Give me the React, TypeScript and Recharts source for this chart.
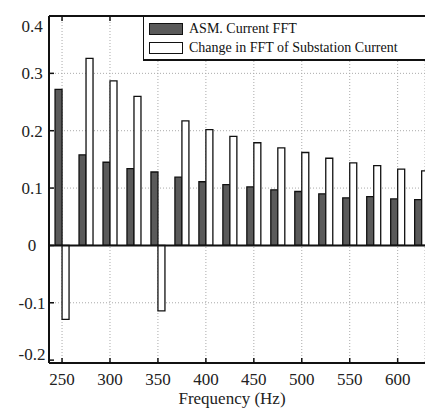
import { BarChart, Bar, XAxis, YAxis, CartesianGrid, ReferenceLine } from "recharts";

const SERIF = "Liberation Serif";

// harmonic frequencies (Hz)
const FREQS = [250, 275, 300, 325, 350, 375, 400, 425, 450, 475, 500, 525, 550, 575, 600, 625];
// ASM current FFT magnitude
const ASM_FFT = [0.272, 0.158, 0.145, 0.134, 0.128, 0.119, 0.111, 0.106, 0.102, 0.097, 0.094, 0.09, 0.083, 0.085, 0.081, 0.08];
// change in FFT of substation current
const SUB_DELTA = [-0.129, 0.326, 0.287, 0.26, -0.114, 0.217, 0.202, 0.19, 0.179, 0.17, 0.162, 0.152, 0.144, 0.139, 0.133, 0.13];

const X_TICKS = [250, 300, 350, 400, 450, 500, 550, 600];
const Y_TICKS = [-0.2, -0.1, 0, 0.1, 0.2, 0.3, 0.4];
const Y_GRID = [-0.1, 0.1, 0.2, 0.3];

const SERIES = [
  { key: "asm", name: "ASM. Current FFT", fill: "#5a5a5a" },
  { key: "sub", name: "Change in FFT of Substation Current", fill: "#ffffff" },
];

const rows = FREQS.map((f, i) => ({ freq: f, asm: ASM_FFT[i], sub: SUB_DELTA[i] }));

const TOP = 16;
const INK = "#111";

function FreqTick({ x, y, payload }: any) {
  return (
    <g>
      <line x1={x} x2={x} y1={y} y2={y - 5} stroke={INK} strokeWidth={1.5} />
      <line x1={x} x2={x} y1={TOP} y2={TOP + 5} stroke={INK} strokeWidth={1.5} />
      <text x={x} y={385} textAnchor="middle" fontSize={17} fontFamily={SERIF} fill="#222">
        {payload.value}
      </text>
    </g>
  );
}

function ValueTick({ x, y, payload }: any) {
  const v = payload.value as number;
  // keep the end labels inside the frame
  const cy = Math.min(Math.max(y, 26), 354);
  return (
    <g>
      <line x1={x} x2={x + 5} y1={y} y2={y} stroke={INK} strokeWidth={1.5} />
      <text x={32} y={cy + 6} textAnchor="middle" fontSize={17} fontFamily={SERIF} fill="#222">
        {v === 0 ? "0" : v.toFixed(1)}
      </text>
    </g>
  );
}

function LegendBox() {
  return (
    <div
      style={{
        position: "absolute", left: 143, top: 15, width: 300, height: 42,
        borderTop: `2px solid ${INK}`, borderBottom: `2px solid ${INK}`, borderLeft: `1.5px solid ${INK}`,
        background: "#fff", fontFamily: SERIF, fontSize: 14, color: "#111",
      }}
    >
      {SERIES.map((s, i) => (
        <div key={s.key} style={{ position: "absolute", left: 5, top: 5 + i * 19, height: 13, display: "flex", alignItems: "center", whiteSpace: "nowrap" }}>
          <span style={{ display: "inline-block", width: 32, height: 10, background: s.fill, border: `1.5px solid ${INK}` }} />
          <span style={{ marginLeft: 6 }}>{s.name}</span>
        </div>
      ))}
    </div>
  );
}

export default function App() {
  return (
    <div style={{ position: "absolute", left: 0, top: 0, width: 425, height: 409, overflow: "hidden", background: "#fff" }}>
      <BarChart
        width={425} height={409} data={rows}
        margin={{ top: TOP, right: 0, left: 0, bottom: 0 }}
        barGap={0}
      >
        <CartesianGrid stroke="#aaa" strokeDasharray="1 2" horizontalValues={Y_GRID} />
        <XAxis
          dataKey="freq" type="number" domain={[236.4, 628.5]} ticks={X_TICKS}
          allowDataOverflow height={46}
          axisLine={{ stroke: INK, strokeWidth: 2 }} tickLine={false} tickSize={0} tickMargin={0}
          tick={<FreqTick />}
          label={{ value: "Frequency (Hz)", position: "insideBottom", offset: 5, dx: -5, fontSize: 17, fill: "#222", fontFamily: SERIF }}
        />
        <YAxis
          type="number" domain={[-0.205, 0.4]} ticks={Y_TICKS} allowDataOverflow width={49}
          axisLine={{ stroke: INK, strokeWidth: 2 }} tickLine={false} tickSize={0} tickMargin={0}
          tick={<ValueTick />}
        />
        {SERIES.map(s => (
          <Bar
            key={s.key} dataKey={s.key} name={s.name} barSize={7}
            fill={s.fill} stroke={INK} strokeWidth={1.3}
            isAnimationActive={false}
          />
        ))}
        <ReferenceLine y={0} stroke={INK} strokeWidth={2} />
        <ReferenceLine y={0.4} stroke={INK} strokeWidth={2} />
      </BarChart>
      <LegendBox />
    </div>
  );
}
